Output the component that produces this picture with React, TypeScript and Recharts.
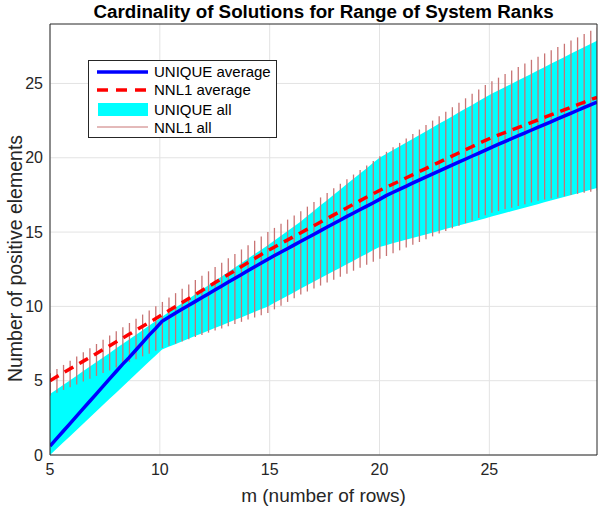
import React from 'react';
import { ComposedChart, Area, Bar, Line, XAxis, YAxis, CartesianGrid, Legend, Label } from 'recharts';

const FONT = '"Liberation Sans", Arial, Helvetica, sans-serif';

const m = [5, 5.3, 5.6, 5.9, 6.2, 6.5, 6.8, 7.1, 7.4, 7.7, 8, 8.3, 8.6, 8.9, 9.2, 9.5, 9.8, 10.1, 10.4, 10.7, 11, 11.3, 11.6, 11.9, 12.2, 12.5, 12.8, 13.1, 13.4, 13.7, 14, 14.3, 14.6, 14.9, 15.2, 15.5, 15.8, 16.1, 16.4, 16.7, 17, 17.3, 17.6, 17.9, 18.2, 18.5, 18.8, 19.1, 19.4, 19.7, 20, 20.3, 20.6, 20.9, 21.2, 21.5, 21.8, 22.1, 22.4, 22.7, 23, 23.3, 23.6, 23.9, 24.2, 24.5, 24.8, 25.1, 25.4, 25.7, 26, 26.3, 26.6, 26.9, 27.2, 27.5, 27.8, 28.1, 28.4, 28.7, 29, 29.3, 29.6, 29.9];

const uniqueAvg = [0.6, 1.1, 1.6, 2.1, 2.6, 3.1, 3.6, 4.1, 4.6, 5.1, 5.6, 6.1, 6.55, 7.05, 7.55, 8.05, 8.5, 9.0,
  9.27, 9.53, 9.8, 10.06, 10.32, 10.58, 10.84, 11.1, 11.36, 11.62, 11.88, 12.13, 12.39, 12.65, 12.9, 13.15,
  13.4, 13.64, 13.88, 14.12, 14.36, 14.6, 14.84, 15.08, 15.32, 15.56, 15.8, 16.04, 16.27, 16.5, 16.73, 16.96, 17.2,
  17.45, 17.66, 17.87, 18.08, 18.29, 18.5, 18.7, 18.9, 19.1, 19.3, 19.5, 19.7, 19.9, 20.1, 20.3, 20.5, 20.7,
  20.9, 21.09, 21.28, 21.47, 21.66, 21.85, 22.04, 22.23, 22.42, 22.61, 22.8, 22.99, 23.18, 23.37, 23.56, 23.75];

const nnlAvg = [5.0, 5.26, 5.52, 5.78, 6.04, 6.3, 6.56, 6.82, 7.08, 7.34, 7.6, 7.86, 8.12, 8.38, 8.64, 8.9, 9.16, 9.43,
  9.7, 9.97, 10.24, 10.51, 10.78, 11.05, 11.32, 11.59, 11.86, 12.13, 12.4, 12.67, 12.94, 13.21, 13.48, 13.74,
  13.98, 14.22, 14.46, 14.7, 14.94, 15.18, 15.42, 15.66, 15.9, 16.14, 16.38, 16.62, 16.86, 17.1, 17.34, 17.57, 17.8,
  18.01, 18.22, 18.43, 18.64, 18.85, 19.06, 19.27, 19.48, 19.69, 19.9, 20.11, 20.32, 20.53, 20.74, 20.95, 21.16, 21.35,
  21.52, 21.69, 21.86, 22.03, 22.2, 22.37, 22.54, 22.71, 22.88, 23.05, 23.22, 23.39, 23.56, 23.73, 23.9, 24.07];

const uniqueMin = [0, 0.42, 0.84, 1.25, 1.67, 2.09, 2.5, 2.92, 3.34, 3.76, 4.18, 4.6, 5.01, 5.43, 5.85, 6.27, 6.68, 7.1,
  7.28, 7.46, 7.64, 7.82, 8.0, 8.18, 8.36, 8.54, 8.72, 8.9, 9.08, 9.26, 9.44, 9.62, 9.8, 9.98,
  10.22, 10.46, 10.7, 10.94, 11.18, 11.42, 11.65, 11.89, 12.12, 12.36, 12.59, 12.83, 13.06, 13.3, 13.53, 13.77, 14.0,
  14.12, 14.24, 14.36, 14.48, 14.6, 14.72, 14.84, 14.96, 15.08, 15.2, 15.32, 15.44, 15.56, 15.68, 15.8, 15.92, 16.04,
  16.16, 16.28, 16.4, 16.52, 16.64, 16.76, 16.88, 17.0, 17.12, 17.24, 17.36, 17.48, 17.6, 17.72, 17.84, 17.96];

const uniqueMax = [4.1, 4.41, 4.71, 5.02, 5.32, 5.63, 5.94, 6.24, 6.55, 6.85, 7.16, 7.47, 7.77, 8.08, 8.38, 8.69, 9.0, 9.3,
  9.6, 9.9, 10.2, 10.5, 10.8, 11.1, 11.4, 11.7, 12.0, 12.3, 12.6, 12.9, 13.2, 13.5, 13.8, 14.1,
  14.42, 14.74, 15.06, 15.38, 15.7, 16.06, 16.42, 16.78, 17.13, 17.49, 17.85, 18.21, 18.57, 18.92, 19.28, 19.64, 20.0,
  20.25, 20.51, 20.76, 21.01, 21.27, 21.52, 21.77, 22.02, 22.28, 22.53, 22.78, 23.04, 23.29, 23.54, 23.8, 24.05, 24.3,
  24.52, 24.75, 24.97, 25.2, 25.42, 25.64, 25.87, 26.09, 26.32, 26.54, 26.76, 26.99, 27.21, 27.43, 27.66, 27.88];

const nnlMin = [4.0, 4.19, 4.38, 4.56, 4.75, 4.94, 5.13, 5.32, 5.51, 5.69, 5.88, 6.07, 6.26, 6.45, 6.64, 6.82, 7.01, 7.2,
  7.35, 7.49, 7.64, 7.79, 7.94, 8.08, 8.23, 8.38, 8.52, 8.67, 8.82, 8.96, 9.11, 9.26, 9.4, 9.55,
  9.8, 10.05, 10.3, 10.55, 10.8, 11.0, 11.2, 11.4, 11.6, 11.8, 12.0, 12.2, 12.4, 12.6, 12.8, 13.0, 13.2,
  13.39, 13.58, 13.77, 13.96, 14.14, 14.33, 14.52, 14.71, 14.9, 15.08, 15.25, 15.43, 15.6, 15.78, 15.95, 16.13, 16.3,
  16.41, 16.53, 16.64, 16.76, 16.87, 16.99, 17.1, 17.18, 17.26, 17.33, 17.41, 17.49, 17.57, 17.64, 17.72, 17.8];

const nnlMax = [5.5, 5.78, 6.06, 6.35, 6.63, 6.91, 7.19, 7.47, 7.76, 8.04, 8.32, 8.6, 8.88, 9.17, 9.45, 9.73, 10.01, 10.3,
  10.59, 10.89, 11.18, 11.48, 11.77, 12.06, 12.36, 12.65, 12.94, 13.24, 13.53, 13.83, 14.12, 14.41, 14.71, 15.0,
  15.28, 15.56, 15.84, 16.12, 16.4, 16.71, 17.02, 17.33, 17.63, 17.94, 18.25, 18.56, 18.87, 19.17, 19.48, 19.79, 20.1,
  20.4, 20.7, 21.0, 21.3, 21.6, 21.9, 22.2, 22.5, 22.8, 23.1, 23.4, 23.7, 24.0, 24.3, 24.6, 24.9, 25.15,
  25.39, 25.63, 25.87, 26.11, 26.35, 26.59, 26.8, 27.02, 27.23, 27.45, 27.67, 27.89, 28.1, 28.32, 28.54, 28.76];

const xTicks = [5, 10, 15, 20, 25];
const yTicks = [0, 5, 10, 15, 20, 25];
const seriesNames = ['UNIQUE average', 'NNL1 average', 'UNIQUE all', 'NNL1 all'];
const titleText = 'Cardinality of Solutions for Range of System Ranks';
const xLabel = 'm (number of rows)';
const yLabel = 'Number of positive elements';

const data = m.map((x, i) => ({
  m: x,
  uniqueAvg: uniqueAvg[i],
  nnlAvg: nnlAvg[i],
  uniqueAll: [uniqueMin[i], uniqueMax[i]],
  nnlAll: [nnlMin[i], nnlMax[i]],
}));

const AXIS = '#262626';
const BLUE = '#0000FF';
const RED = '#FF0000';
const CYAN = '#00FFFF';
const BROWN = '#C87474';

const LegendBox = () => (
  <div style={{ width: 189, height: 78, position: 'relative' }}>
    <svg width={189} height={78} style={{ display: 'block' }}>
      <rect x={0.5} y={0.5} width={188} height={77} fill="#fff" stroke={AXIS} strokeWidth={1} />
      <line x1={9} x2={60} y1={12} y2={12} stroke={BLUE} strokeWidth={3.5} />
      <line x1={9} x2={60} y1={30} y2={30} stroke={RED} strokeWidth={3.5} strokeDasharray="11 8" />
      <rect x={10} y={43} width={50} height={13} fill={CYAN} />
      <line x1={9} x2={60} y1={67} y2={67} stroke={BROWN} strokeWidth={1} />
      {seriesNames.map((n, i) => (
        <text key={n} x={66} y={[12, 30, 49.5, 67.5][i] + 5.4} fontFamily={FONT} fontSize={15} fill="#000">
          {n}
        </text>
      ))}
    </svg>
  </div>
);

export default function App() {
  return (
    <div style={{ position: 'absolute', left: 0, top: 0, width: 601, height: 508, background: '#fff' }}>
      <ComposedChart width={601} height={508} data={data} margin={{ top: 24, right: 4, bottom: 0, left: 0 }}>
        <CartesianGrid stroke="#E3E3E3" strokeWidth={1} horizontalValues={yTicks} verticalValues={xTicks} />
        <XAxis
          dataKey="m"
          type="number"
          domain={[5, 29.9]}
          allowDataOverflow
          ticks={xTicks}
          height={53}
          tickLine={false}
          tickSize={0}
          tickMargin={9}
          axisLine={{ stroke: AXIS }}
          tick={{ fill: AXIS, fontSize: 16, fontFamily: FONT }}
        >
          <Label
            content={({ viewBox }: any) => (
              <text x={viewBox.x + viewBox.width / 2} y={viewBox.y + 47} textAnchor="middle" fontFamily={FONT} fontSize={19} fill={AXIS}>
                {xLabel}
              </text>
            )}
          />
        </XAxis>
        <XAxis
          xAxisId="bm"
          dataKey="m"
          type="number"
          domain={[5, 29.9]}
          allowDataOverflow
          ticks={xTicks}
          orientation="bottom"
          mirror
          tick={false}
          axisLine={false}
          tickSize={6}
          tickLine={{ stroke: AXIS }}
        />
        <XAxis
          xAxisId="top"
          dataKey="m"
          type="number"
          domain={[5, 29.9]}
          allowDataOverflow
          ticks={xTicks}
          orientation="top"
          mirror
          tick={false}
          axisLine={{ stroke: AXIS }}
          tickSize={6}
          tickLine={{ stroke: AXIS }}
        >
          <Label
            content={() => (
              <text x={50 + 547 / 2} y={18} textAnchor="middle" fontFamily={FONT} fontSize={18.8} fontWeight="bold" fill="#000">
                {titleText}
              </text>
            )}
          />
        </XAxis>
        <YAxis
          type="number"
          domain={[0, 29]}
          allowDataOverflow
          ticks={yTicks}
          width={50}
          tickLine={false}
          tickSize={0}
          tickMargin={7}
          axisLine={{ stroke: AXIS }}
          tick={{ fill: AXIS, fontSize: 16, fontFamily: FONT }}
        >
          <Label
            content={({ viewBox }: any) => {
              const cx = 15;
              const cy = viewBox.y + viewBox.height / 2 + 19;
              return (
                <text x={cx} y={cy} transform={`rotate(-90, ${cx}, ${cy})`} textAnchor="middle" dominantBaseline="central" fontFamily={FONT} fontSize={19.5} fill={AXIS}>
                  {yLabel}
                </text>
              );
            }}
          />
        </YAxis>
        <YAxis
          yAxisId="lm"
          type="number"
          domain={[0, 29]}
          allowDataOverflow
          ticks={yTicks}
          orientation="left"
          mirror
          tick={false}
          axisLine={false}
          tickSize={6}
          tickLine={{ stroke: AXIS }}
        />
        <YAxis
          yAxisId="right"
          type="number"
          domain={[0, 29]}
          allowDataOverflow
          ticks={yTicks}
          orientation="right"
          mirror
          tick={false}
          axisLine={{ stroke: AXIS }}
          tickSize={6}
          tickLine={{ stroke: AXIS }}
        />
        <Area
          dataKey="uniqueAll"
          type="linear"
          stroke="none"
          fill={CYAN}
          fillOpacity={1}
          isAnimationActive={false}
          activeDot={false}
        />
        <Bar dataKey="nnlAll" fill={BROWN} barSize={1.3} isAnimationActive={false} />
        <Line dataKey="uniqueAvg" type="linear" stroke={BLUE} strokeWidth={3.5} dot={false} activeDot={false} isAnimationActive={false} />
        <Line dataKey="nnlAvg" type="linear" stroke={RED} strokeWidth={3.5} strokeDasharray="10 7" dot={false} activeDot={false} isAnimationActive={false} />
        <Legend
          layout="vertical"
          align="center"
          verticalAlign="middle"
          content={() => <LegendBox />}
          wrapperStyle={{ left: 88, top: 60, width: 189, height: 78 }}
        />
      </ComposedChart>
    </div>
  );
}
